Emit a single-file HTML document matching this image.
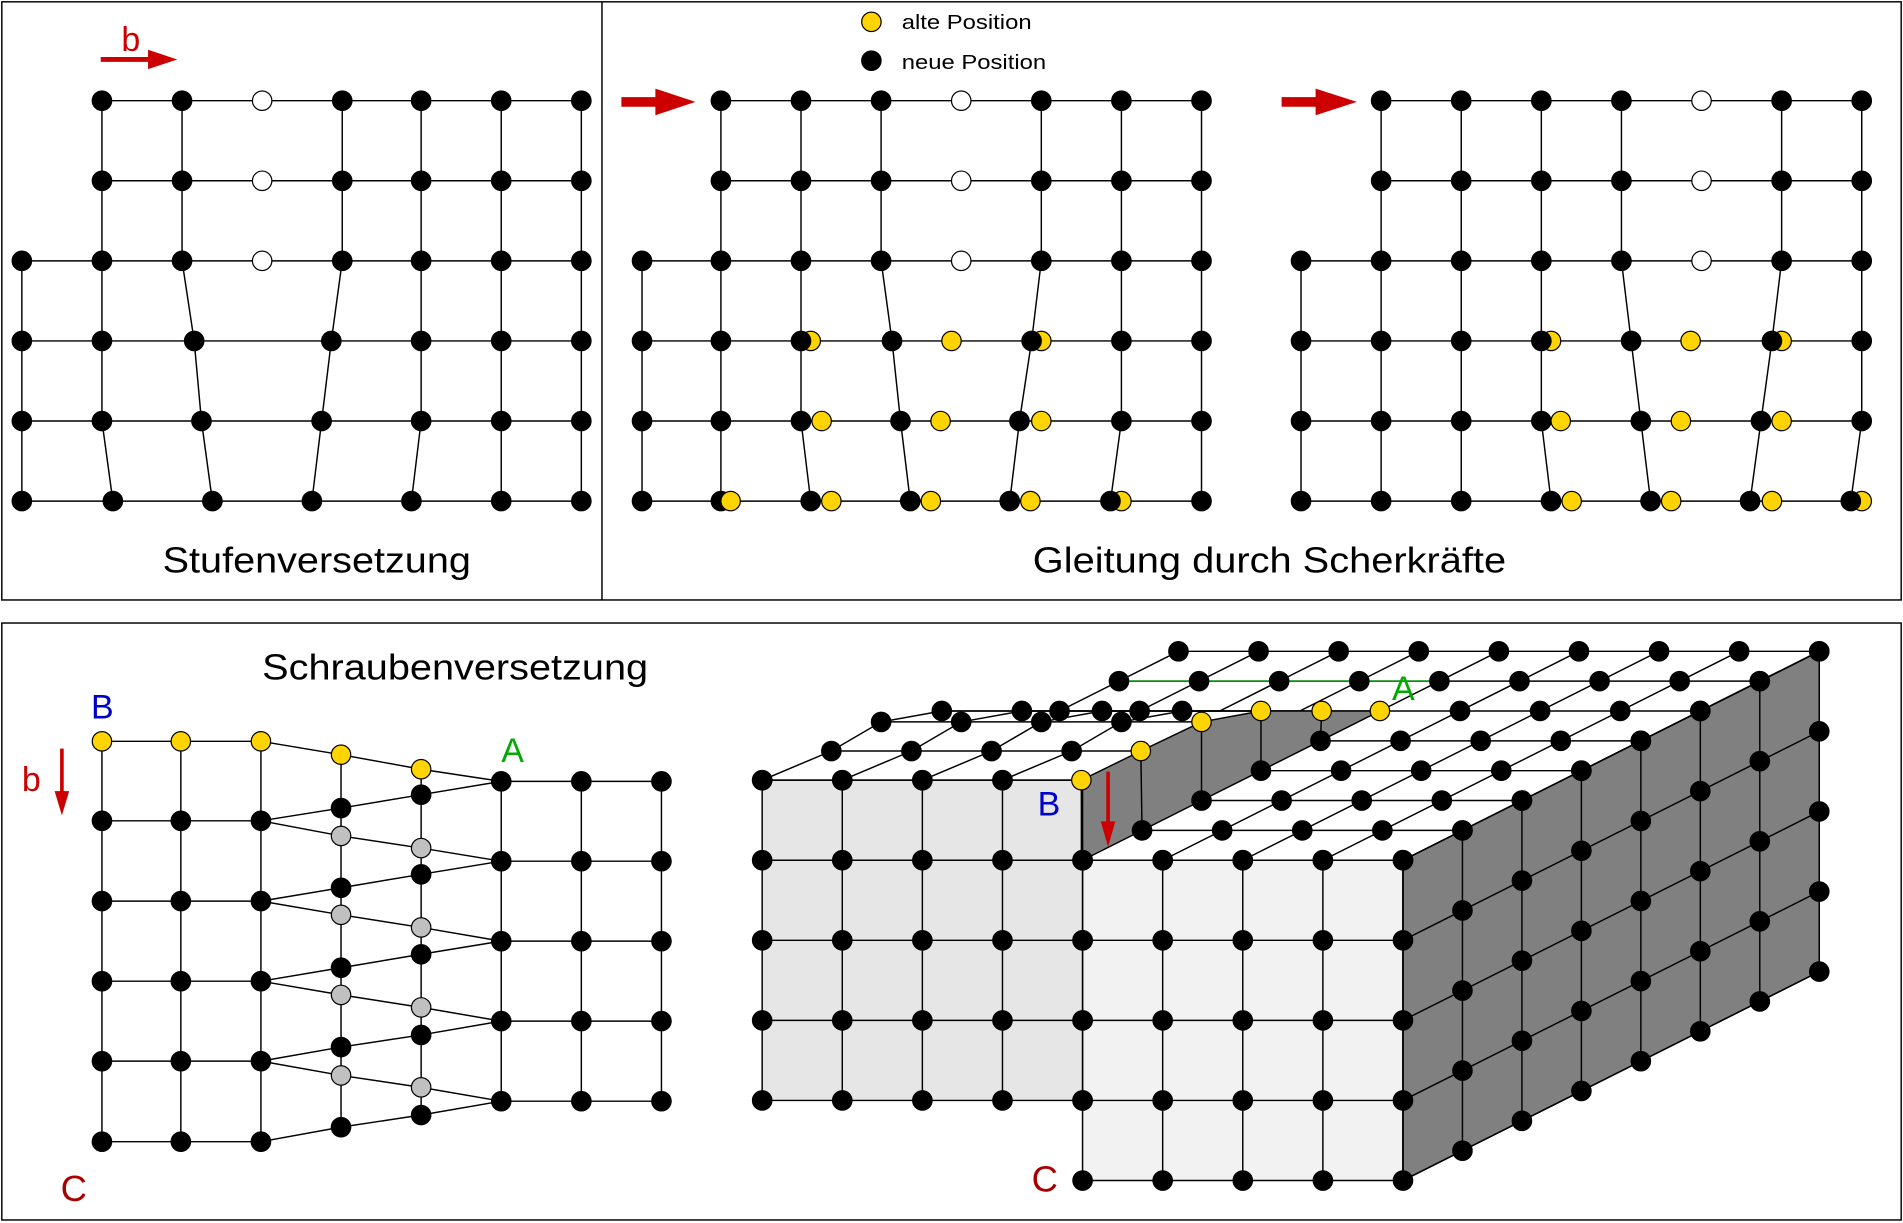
<!DOCTYPE html>
<html><head><meta charset="utf-8"><style>
html,body{margin:0;padding:0;background:#fff}
svg{display:block}
text{font-family:"Liberation Sans",Arial,sans-serif}
</style></head><body>
<svg id="s" xmlns="http://www.w3.org/2000/svg" width="1903" height="1223" viewBox="0 0 1568 1008" preserveAspectRatio="none">
<rect x="0" y="0" width="1568" height="1008" fill="#fff"/>
<rect x="1.5" y="1.5" width="1565" height="493" fill="none" stroke="#000" stroke-width="1.2"/>
<line x1="496" y1="1.5" x2="496" y2="494.5" stroke="#000" stroke-width="1.2"/>
<rect x="1.5" y="513.5" width="1565" height="492" fill="none" stroke="#000" stroke-width="1.2"/>
<g id="g"></g>
<text x="134" y="472" font-size="30" textLength="254" lengthAdjust="spacingAndGlyphs">Stufenversetzung</text>
<text x="851" y="472" font-size="30" textLength="390" lengthAdjust="spacingAndGlyphs">Gleitung durch Scherkräfte</text>
<text x="743" y="24" font-size="17" textLength="107" lengthAdjust="spacingAndGlyphs">alte Position</text>
<text x="743" y="57" font-size="17" textLength="119" lengthAdjust="spacingAndGlyphs">neue Position</text>
<text x="100" y="42" font-size="28" fill="#cc0000">b</text>
<text x="216" y="560" font-size="30" textLength="318" lengthAdjust="spacingAndGlyphs">Schraubenversetzung</text>
<text x="75" y="592" font-size="28" fill="#0000cc">B</text>
<text x="18" y="652" font-size="28" fill="#cc0000">b</text>
<text x="50" y="990" font-size="30" fill="#aa0000">C</text>
<text x="413" y="628" font-size="28" fill="#00aa00">A</text>
<text x="855" y="672" font-size="28" fill="#0000cc">B</text>
<text x="850" y="982" font-size="30" fill="#aa0000">C</text>
<text x="1147" y="577" font-size="28" fill="#00aa00">A</text>
</svg>
<script>
var G=document.getElementById('g'),NS='http://www.w3.org/2000/svg';
function el(t,a){var e=document.createElementNS(NS,t);for(var k in a)e.setAttribute(k,a[k]);G.appendChild(e);return e;}
function pl(p,c,w){el('polyline',{points:p.map(function(q){return q.join(',')}).join(' '),fill:'none',stroke:c||'#000','stroke-width':w||1.2});}
function dot(x,y,f,r){el('circle',{cx:x,cy:y,r:r||8,fill:f||'#000',stroke:'#000','stroke-width':1});}
var Y='#ffd400',GR='#c0c0c0';
// ---------- top grids ----------
var RY=[83,149,215,281,347,413];
function topgrid(rows,verts){
  rows.forEach(function(r,j){var xs=r.b.concat(r.o||[],r.y||[]);var mn=Math.min.apply(null,xs),mx=Math.max.apply(null,xs);pl([[mn,RY[j]],[mx,RY[j]]]);});
  verts.forEach(function(v){pl(v.map(function(q){return [q[0],RY[q[1]]];}));});
  rows.forEach(function(r,j){
    var y=RY[j];
    if(j==3){(r.y||[]).forEach(function(x){dot(x,y,Y)});r.b.forEach(function(x){dot(x,y)});}
    else{r.b.forEach(function(x){dot(x,y)});(r.y||[]).forEach(function(x){dot(x,y,Y)});(r.front||[]).forEach(function(x){dot(x,y)});}
    (r.o||[]).forEach(function(x){dot(x,y,'#fff')});
  });
}
function st(x,a,b){var p=[];for(var j=a;j<=b;j++)p.push([x,j]);return p;}
topgrid([
 {b:[84,150,282,347,413,479],o:[216]},{b:[84,150,282,347,413,479],o:[216]},
 {b:[18,84,150,282,347,413,479],o:[216]},
 {b:[18,84,160,273,347,413,479]},{b:[18,84,166,265,347,413,479]},{b:[18,93,175,257,339,413,479]}],
 [st(18,2,5),st(84,0,4).concat([[93,5]]),st(150,0,2).concat([[160,3],[166,4],[175,5]]),
  st(282,0,2).concat([[273,3],[265,4],[257,5]]),st(347,0,4).concat([[339,5]]),st(413,0,5),st(479,0,5)]);
topgrid([
 {b:[594,660,726,858,924,990],o:[792]},{b:[594,660,726,858,924,990],o:[792]},
 {b:[529,594,660,726,858,924,990],o:[792]},
 {b:[529,594,660,735,850,924,990],y:[668,784,858]},
 {b:[529,594,660,742,840,924,990],y:[677,775,858]},
 {b:[529,594,668,750,832,990],y:[602,685,767,849,924],front:[915]}],
 [st(529,2,5),st(594,0,5),st(660,0,4).concat([[668,5]]),st(726,0,2).concat([[735,3],[742,4],[750,5]]),
  st(858,0,2).concat([[850,3],[840,4],[832,5]]),st(924,0,4).concat([[915,5]]),st(990,0,5)]);
topgrid([
 {b:[1138,1204,1270,1336,1468,1534],o:[1402]},{b:[1138,1204,1270,1336,1468,1534],o:[1402]},
 {b:[1072,1138,1204,1270,1336,1468,1534],o:[1402]},
 {b:[1072,1138,1204,1270,1344,1460,1534],y:[1278,1393,1468]},
 {b:[1072,1138,1204,1270,1352,1451,1534],y:[1286,1385,1468]},
 {b:[1072,1138,1204,1278,1360,1442],y:[1295,1377,1460,1534],front:[1525]}],
 [st(1072,2,5),st(1138,0,5),st(1204,0,5),st(1270,0,4).concat([[1278,5]]),st(1336,0,2).concat([[1344,3],[1352,4],[1360,5]]),
  st(1468,0,2).concat([[1460,3],[1451,4],[1442,5]]),st(1534,0,4).concat([[1525,5]])]);
// legend
dot(718,18,Y);dot(718,50);
// arrows top
el('polygon',{points:'83,47 122,47 122,41 146,49 122,57 122,51 83,51',fill:'#cc0000'});
el('polygon',{points:'512,80 540,80 540,73 573,84 540,95 540,88 512,88',fill:'#cc0000'});
el('polygon',{points:'1056,80 1084,80 1084,73 1118,84 1084,95 1084,88 1056,88',fill:'#cc0000'});
// ---------- bottom-left screw ----------
var LR=[611,676.5,742.7,808.7,874.6,941],RR=[644,709.8,775.7,841.6,907.6];
[84,149,215].forEach(function(x){pl([[x,611],[x,941]]);});
LR.forEach(function(y){pl([[84,y],[215,y]]);});
pl([[281,622],[281,929]]);pl([[347,634],[347,919]]);
[413,479,545].forEach(function(x){pl([[x,644],[x,907.6]]);});
RR.forEach(function(y){pl([[413,y],[545,y]]);});
var c281b=[666,731.7,797.6,863,929],c281g=[689,754,820,886.4],c347b=[655,720.6,786.5,853,919],c347g=[699,764.4,830.3,896.2];
pl([[215,611],[281,622],[347,634],[413,644]]);
for(var j=1;j<=5;j++){pl([[215,LR[j]],[281,c281b[j-1]],[347,c347b[j-1]],[413,RR[j-1]]]);
 if(j<5)pl([[215,LR[j]],[281,c281g[j-1]],[347,c347g[j-1]],[413,RR[j]]]);}
[84,149,215].forEach(function(x){LR.forEach(function(y,j){dot(x,y,j==0?Y:'#000')});});
dot(281,622,Y);dot(347,634,Y);
c281b.forEach(function(y){dot(281,y)});c281g.forEach(function(y){dot(281,y,GR)});
c347b.forEach(function(y){dot(347,y)});c347g.forEach(function(y){dot(347,y,GR)});
[413,479,545].forEach(function(x){RR.forEach(function(y){dot(x,y)});});
el('rect',{x:49.5,y:617,width:3,height:38,fill:'#cc0000'});
el('polygon',{points:'45,652 57,652 51,672',fill:'#cc0000'});
// ---------- 3D block ----------
function U(i,k){return [628+66*i+49*k,709-24.6*k];}
var Lp=[[628,643],[685,619],[726,595],[776,586]];
function L(i,k){return [Lp[k][0]+66*i,Lp[k][1]];}
var Yp=[[891,643],[940,619],[990,595],[1039,586],[1089,586],[1137,586]];
// faces
el('rect',{x:628,y:643,width:264,height:264,fill:'#e6e6e6'});
el('rect',{x:891,y:709,width:265,height:264,fill:'#f2f2f2'});
var a=U(8,0),b=U(8,7);
el('polygon',{points:[a,b,[b[0],b[1]+264],[a[0],a[1]+264]].map(function(q){return q.join(',')}).join(' '),fill:'#808080',stroke:'#000','stroke-width':1.2});
// top lines
for(var k=0;k<4;k++)pl([L(0,k),Yp[k]]);
for(var k=0;k<8;k++)pl([k>=5?U(0,k):U(4,k),U(8,k)]);
for(var i=0;i<4;i++)pl([L(i,0),L(i,1),L(i,2),L(i,3),U(i,5),U(i,6),U(i,7)]);
for(var i=5;i<=8;i++)pl([U(i,0),U(i,7)]);
pl([U(4,5),U(4,7)]);
// step face
var sp=Yp.slice();for(var k=5;k>=0;k--)sp.push(U(4,k));
el('polygon',{points:sp.map(function(q){return q.join(',')}).join(' '),fill:'#808080',stroke:'#000','stroke-width':1.2});
for(var k=1;k<5;k++)pl([Yp[k],U(4,k)]);
pl([[891,643],[891,709]]);
// green line
pl([U(0,6),[1180,U(0,6)[1]]],'#00a000',1.2);
// front face lines
for(var i=0;i<=4;i++)pl([[628+66*i,643],[628+66*i,907]]);
for(var j=0;j<5;j++)pl([[628,643+66*j],[892,643+66*j]]);
for(var i=4;i<=8;i++)pl([[628+66*i,709],[628+66*i,973]]);
for(var j=0;j<5;j++)pl([[891,709+66*j],[1156,709+66*j]]);
// right face lines
for(var k=0;k<8;k++){var p=U(8,k);pl([p,[p[0],p[1]+264]]);}
for(var j=0;j<5;j++){pl([[a[0],a[1]+66*j],[b[0],b[1]+66*j]]);}
// dots
for(var i=0;i<4;i++)for(var k=0;k<4;k++){var p=L(i,k);dot(p[0],p[1]);}
[U(0,5),U(1,5)].forEach(function(p){dot(p[0],p[1])});
for(var i=0;i<=8;i++){var p=U(i,6);dot(p[0],p[1]);p=U(i,7);dot(p[0],p[1]);}
for(var i=5;i<=8;i++)for(var k=0;k<6;k++){var p=U(i,k);dot(p[0],p[1]);}
for(var k=0;k<5;k++){var p=U(4,k);dot(p[0],p[1]);}
Yp.forEach(function(p){dot(p[0],p[1],Y)});
for(var i=0;i<=4;i++)for(var j=0;j<5;j++){if(i==4&&j==0)continue;dot(628+66*i,643+66*j);}
for(var i=4;i<=8;i++)for(var j=0;j<5;j++)dot(628+66*i,709+66*j);
for(var k=1;k<8;k++)for(var j=0;j<5;j++){var p=U(8,k);dot(p[0],p[1]+66*j);}
// red arrow B
el('rect',{x:911.5,y:636,width:3,height:44,fill:'#cc0000'});
el('polygon',{points:'907,677 919,677 913,698',fill:'#cc0000'});
</script>
</body></html>
